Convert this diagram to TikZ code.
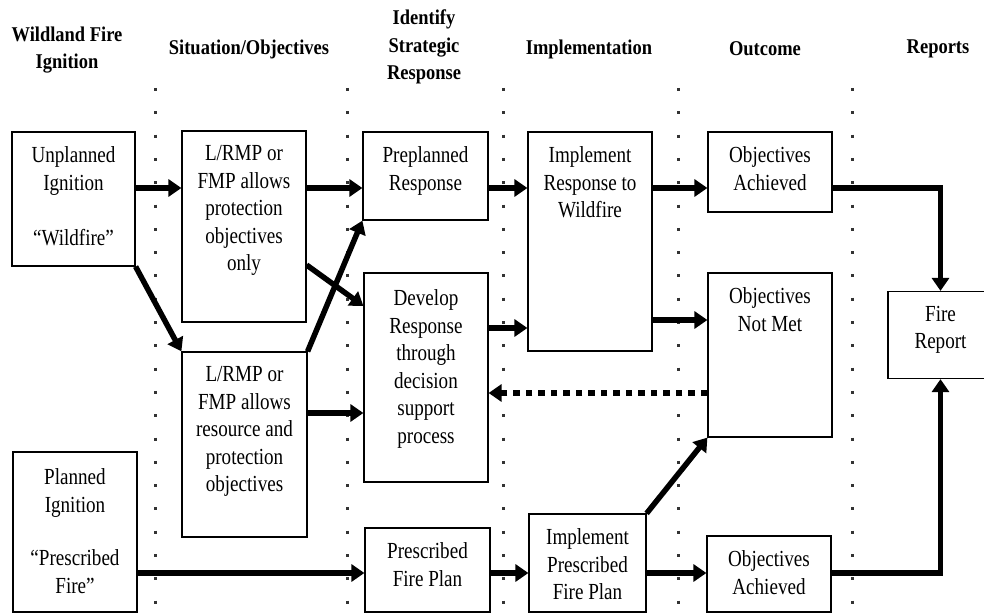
\documentclass[tikz,border=0pt]{standalone}
\usepackage{fontspec}
\setmainfont{Liberation Serif}
\newfontfamily\boxfont[FakeStretch=0.83]{Liberation Serif}
\newfontfamily\headfont[FakeStretch=0.88]{Liberation Serif}
\usepackage{tikz}
\usetikzlibrary{arrows.meta}
\tikzset{>={Triangle[length=13pt,width=17pt]}}
\tikzset{
  box/.style={draw, line width=1.2pt, inner sep=0pt},
  intext/.style={anchor=north, align=center, inner sep=0pt, yshift=-15pt,
    font=\boxfont\fontsize{23}{27.5}\selectfont},
  colhead/.style={align=center, inner sep=0pt,
    font=\headfont\bfseries\fontsize{21}{27.5}\selectfont},
  flow/.style={line width=5.5pt, ->},
  feedback/.style={line width=6.5pt, dash pattern=on 6.5pt off 6pt, ->},
  sepline/.style={line width=3pt, black!80, dash pattern=on 3pt off 20.3pt}
}

\begin{document}
\begin{tikzpicture}[x=1pt,y=-1pt]
          \useasboundingbox (0,0) rectangle (984,615);

          % Column headings
          \node[colhead] at (67,50)  (hignition) {Wildland Fire\\Ignition};
          \node[colhead] at (249,49) (hsituation) {Situation/Objectives};
          \node[colhead] at (424,47) (hstrategic) {Identify\\Strategic\\Response};
          \node[colhead] at (589,49) (himplement) {Implementation};
          \node[colhead] at (765,49) (houtcome) {Outcome};
          \node[colhead] at (938,49) (hreports) {Reports};

          % Column separators
          \foreach \x in {155,347,503,678,852}
            \draw[sepline] (\x,88) -- (\x,615);

          % Boxes
          \node[box, minimum width=123pt, minimum height=134pt,
            label={[intext]north:{Unplanned\\Ignition\\[27.5pt]“Wildfire”}}] at (73.5,199) (unplanned) {};
          \node[box, minimum width=124pt, minimum height=160pt,
            label={[intext,yshift=-2pt]north:{Planned\\Ignition\\[26pt]“Prescribed\\Fire”}}] at (75,532) (planned) {};
          \node[box, minimum width=124pt, minimum height=191pt,
            label={[intext]north:{L/RMP or\\FMP allows\\protection\\objectives\\only}}] at (244,226.5) (lrmpA) {};
          \node[box, minimum width=125pt, minimum height=185pt,
            label={[intext]north:{L/RMP or\\FMP allows\\resource and\\protection\\objectives}}] at (244.5,444.5) (lrmpB) {};
          \node[box, minimum width=125pt, minimum height=88pt,
            label={[intext]north:{Preplanned\\Response}}] at (425.5,176) (preplanned) {};
          \node[box, minimum width=124pt, minimum height=209pt,
            label={[intext,yshift=-2pt]north:{Develop\\Response\\through\\decision\\support\\process}}] at (426,377.5) (develop) {};
          \node[box, minimum width=125pt, minimum height=84pt,
            label={[intext]north:{Prescribed\\Fire Plan}}] at (427.5,570) (prescribed) {};
          \node[box, minimum width=124pt, minimum height=219pt,
            label={[intext]north:{Implement\\Response to\\Wildfire}}] at (590,241.5) (impresp) {};
          \node[box, minimum width=117pt, minimum height=98pt,
            label={[intext]north:{Implement\\Prescribed\\Fire Plan}}] at (587.5,563) (impplan) {};
          \node[box, minimum width=124pt, minimum height=80pt,
            label={[intext]north:{Objectives\\Achieved}}] at (770,172) (achievedA) {};
          \node[box, minimum width=124pt, minimum height=164pt,
            label={[intext]north:{Objectives\\Not Met}}] at (770,355) (notmet) {};
          \node[box, minimum width=124pt, minimum height=76pt,
            label={[intext]north:{Objectives\\Achieved}}] at (769,574) (achievedB) {};
          \node[box, minimum width=105pt, minimum height=87pt,
            label={[intext]north:{Fire\\Report}}] at (940.5,335) (report) {};

          % Arrow heights
          \coordinate (rowA) at (0,188);
          \coordinate (crossA) at (0,265);
          \coordinate (crossB) at (0,306);
          \coordinate (rowC) at (0,320);
          \coordinate (rowB) at (0,328);
          \coordinate (rowF) at (0,393);
          \coordinate (rowD) at (0,413);
          \coordinate (rowE) at (0,573);

          % Arrows
          \draw[flow] (unplanned.east |- rowA) -- (lrmpA.west |- rowA);
          \draw[flow] (lrmpA.east |- rowA) -- (preplanned.west |- rowA);
          \draw[flow] (preplanned.east |- rowA) -- (impresp.west |- rowA);
          \draw[flow] (impresp.east |- rowA) -- (achievedA.west |- rowA);
          \draw[flow] (achievedA.east |- rowA) -| (report.north);
          \draw[flow] (unplanned.south east) -- (lrmpB.north west);
          \draw[flow] (lrmpB.north east) -- (preplanned.south west);
          \draw[flow] (lrmpA.east |- crossA) -- (develop.west |- crossB);
          \draw[flow] (lrmpB.east |- rowD) -- (develop.west |- rowD);
          \draw[flow] (develop.east |- rowB) -- (impresp.west |- rowB);
          \draw[flow] (impresp.east |- rowC) -- (notmet.west |- rowC);
          \draw[feedback] (notmet.west |- rowF) -- (develop.east |- rowF);
          \draw[flow] (planned.east |- rowE) -- (prescribed.west |- rowE);
          \draw[flow] (prescribed.east |- rowE) -- (impplan.west |- rowE);
          \draw[flow] (impplan.east |- rowE) -- (achievedB.west |- rowE);
          \draw[flow] (impplan.north east) -- (notmet.south west);
          \draw[flow] (achievedB.east |- rowE) -| (report.south);

        \end{tikzpicture}
\end{document}
